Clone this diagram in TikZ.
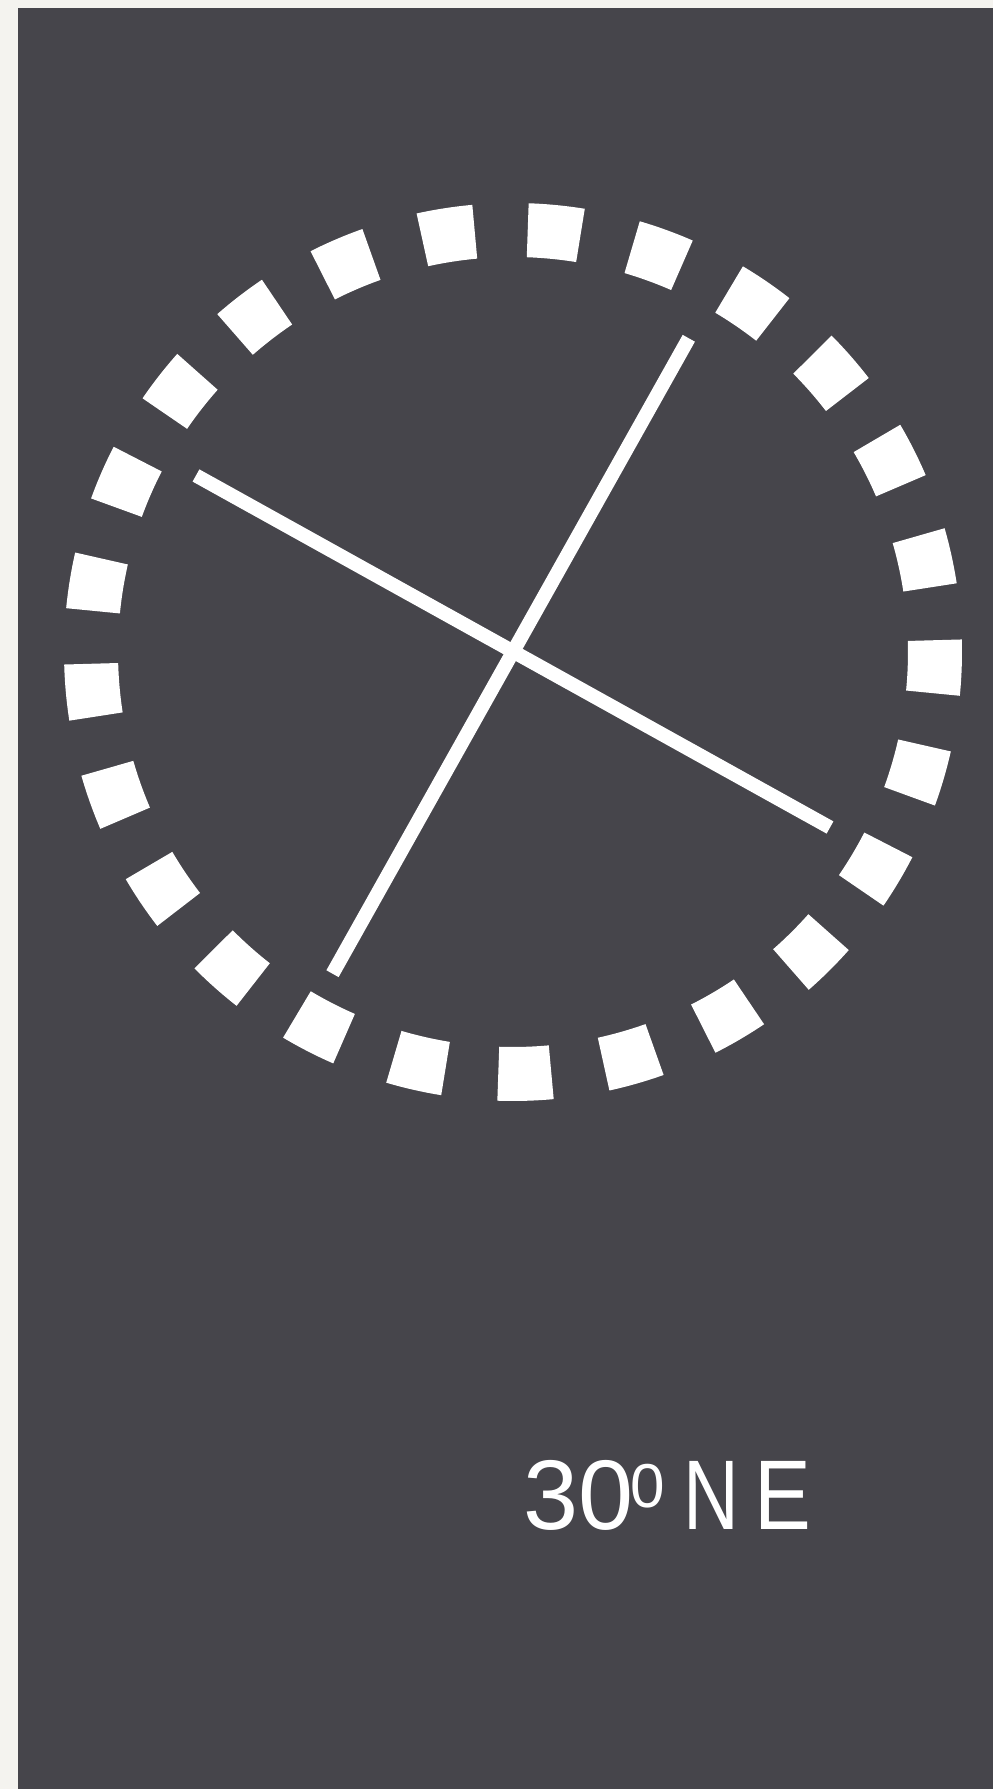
\documentclass[tikz,border=0pt]{standalone}
\usepackage{fontspec}
\usepackage{graphicx}
\setmainfont{Liberation Sans}
\usetikzlibrary{positioning}
\definecolor{slate}{RGB}{70,69,75}
\definecolor{paper}{RGB}{244,243,239}

\begin{document}
\begin{tikzpicture}[x=1pt,y=1pt,
    dialmark/.style={fill=white},
    needle/.style={white, line width=14pt}]
    \useasboundingbox (0,0) rectangle (993,1789);
    \fill[paper] (0,0) rectangle (993,1789);
    \fill[slate] (18,0) rectangle (993,1781);
    \coordinate (centre) at (513,1137);
    % ring of 25 marks
    \foreach \k in {0,...,24} {
        \pgfmathsetmacro{\s}{-5.6+14.4*\k}
        \pgfmathsetmacro{\e}{1.6+14.4*\k}
        \fill[dialmark] ([shift={(\s:449pt)}]centre) arc[start angle=\s, end angle=\e, radius=449pt]
            -- ([shift={(\e:395pt)}]centre) arc[start angle=\e, end angle=\s, radius=395pt] -- cycle;
    }
    % the two crossed needles
    \coordinate (west) at (196,1313.5);
    \coordinate (east) at (830,961.5);
    \coordinate (south) at (332.5,815.3);
    \coordinate (north) at (688.8,1450.7);
    \draw[needle] (west) -- (east);
    \draw[needle] (south) -- (north);
    \node[anchor=base west, inner sep=0pt, text=white, font=\fontsize{99}{99}\selectfont] (bearing) at (523,259)
        {30\kern-3pt\raisebox{22pt}{\fontsize{62}{62}\selectfont 0}\kern19pt\scalebox{0.78}[1]{N}\kern15.2pt\scalebox{0.86}[1]{E}};
\end{tikzpicture}
\end{document}
